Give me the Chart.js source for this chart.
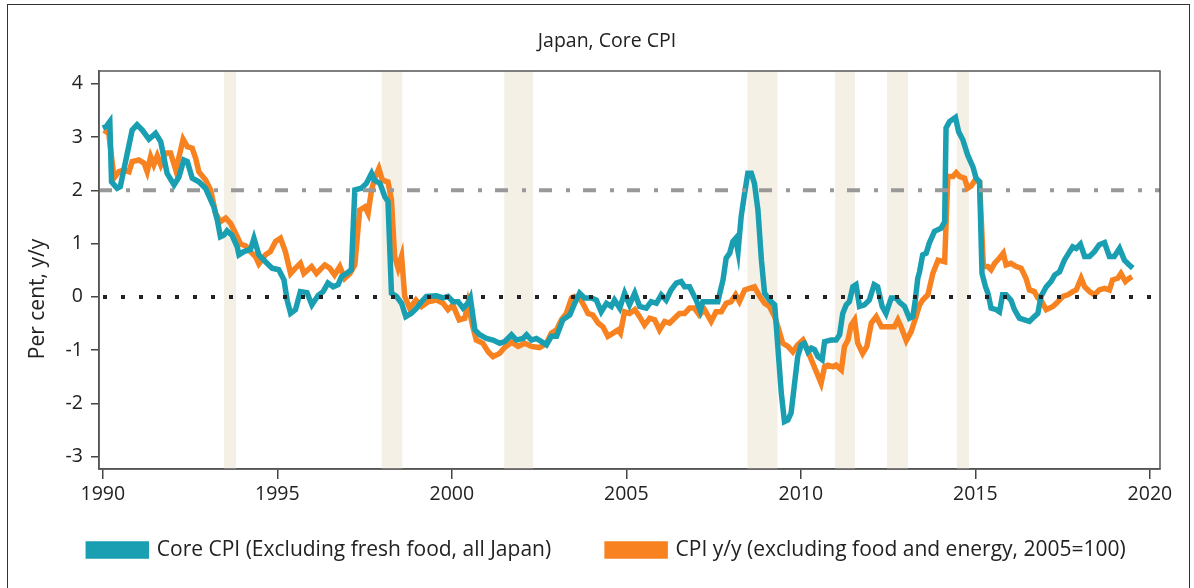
<!DOCTYPE html>
<html>
<head>
<meta charset="utf-8">
<script src="https://cdn.jsdelivr.net/npm/chart.js@4.4.1/dist/chart.umd.min.js"></script>
<style>
  html, body { margin: 0; padding: 0; background: #fff; }
  #wrap { position: relative; width: 1194px; height: 588px; overflow: hidden; }
  #frame { position: absolute; left: 7px; top: 4px; width: 1181px; height: 700px; border: 1px solid #333; }
  canvas { position: absolute; left: 0; top: 0; }
</style>
</head>
<body>
<div id="wrap">
  <div id="frame"></div>
  <canvas id="chart" width="1194" height="588"></canvas>
</div>
<script>
// values: [decimal year, per cent y/y]
const coreCpi = [
  [1990.00, 3.17], [1990.10, 3.20], [1990.20, 3.29], [1990.25, 2.16], [1990.41, 2.04], [1990.50, 2.07],
  [1990.84, 3.13], [1990.98, 3.23], [1991.13, 3.13], [1991.32, 2.96], [1991.51, 3.07], [1991.66, 2.91],
  [1991.84, 2.32], [1992.04, 2.10], [1992.18, 2.25], [1992.32, 2.57], [1992.42, 2.54], [1992.56, 2.23],
  [1992.75, 2.16], [1992.94, 2.04], [1993.09, 1.82], [1993.18, 1.69], [1993.28, 1.44], [1993.37, 1.13],
  [1993.47, 1.16], [1993.56, 1.24], [1993.70, 1.16], [1993.85, 0.94], [1993.90, 0.79], [1994.04, 0.85],
  [1994.23, 0.89], [1994.33, 1.10], [1994.47, 0.79], [1994.66, 0.66], [1994.85, 0.54], [1995.04, 0.51],
  [1995.19, 0.32], [1995.28, -0.06], [1995.38, -0.31], [1995.52, -0.24], [1995.66, 0.10], [1995.85, 0.08],
  [1995.99, -0.15], [1996.17, 0.03], [1996.31, 0.10], [1996.45, 0.26], [1996.60, 0.19], [1996.74, 0.23],
  [1996.84, 0.38], [1996.98, 0.44], [1997.12, 0.51], [1997.22, 2.01], [1997.41, 2.04], [1997.55, 2.13],
  [1997.70, 2.32], [1997.79, 2.19], [1997.94, 2.13], [1998.08, 1.88], [1998.17, 1.79], [1998.27, 0.07],
  [1998.41, 0.01], [1998.56, -0.12], [1998.68, -0.37], [1998.84, -0.31], [1998.99, -0.21], [1999.13, -0.09],
  [1999.27, 0.01], [1999.56, 0.02], [1999.75, -0.02], [1999.89, 0.01], [2000.03, -0.09], [2000.18, -0.09],
  [2000.32, -0.21], [2000.46, -0.12], [2000.53, -0.02], [2000.66, -0.62], [2000.80, -0.71], [2000.99, -0.78],
  [2001.18, -0.81], [2001.37, -0.87], [2001.51, -0.84], [2001.71, -0.71], [2001.85, -0.81], [2002.04, -0.78],
  [2002.14, -0.71], [2002.28, -0.81], [2002.42, -0.78], [2002.57, -0.84], [2002.71, -0.90], [2002.85, -0.74],
  [2003.00, -0.74], [2003.18, -0.43], [2003.38, -0.34], [2003.52, -0.12], [2003.66, 0.07], [2003.80, -0.02],
  [2004.00, -0.02], [2004.14, -0.06], [2004.28, -0.28], [2004.43, -0.12], [2004.57, -0.18], [2004.66, -0.06],
  [2004.81, -0.21], [2004.95, 0.07], [2005.09, -0.15], [2005.24, 0.07], [2005.38, -0.18], [2005.57, -0.21],
  [2005.71, -0.09], [2005.86, -0.12], [2006.00, 0.04], [2006.14, -0.06], [2006.28, 0.13], [2006.43, 0.26],
  [2006.57, 0.29], [2006.67, 0.19], [2006.81, 0.19], [2007.00, -0.06], [2007.12, -0.26], [2007.19, -0.09],
  [2007.48, -0.09], [2007.62, -0.09], [2007.77, 0.32], [2007.86, 0.73], [2007.96, 0.82], [2008.05, 1.04],
  [2008.13, 1.10], [2008.20, 0.85], [2008.29, 1.51], [2008.39, 1.95], [2008.48, 2.32], [2008.58, 2.32],
  [2008.67, 2.13], [2008.77, 1.63], [2008.87, 0.69], [2008.96, 0.07], [2009.10, -0.06], [2009.25, -0.15],
  [2009.34, -0.93], [2009.44, -1.81], [2009.53, -2.34], [2009.63, -2.31], [2009.72, -2.18], [2009.82, -1.62],
  [2009.91, -1.12], [2010.01, -0.90], [2010.10, -0.87], [2010.20, -1.03], [2010.30, -0.96], [2010.39, -0.99],
  [2010.49, -1.12], [2010.61, -1.18], [2010.68, -0.84], [2010.87, -0.81], [2011.01, -0.81], [2011.11, -0.71],
  [2011.20, -0.31], [2011.30, -0.15], [2011.39, -0.09], [2011.49, 0.19], [2011.58, 0.23], [2011.68, -0.18],
  [2011.82, -0.15], [2011.96, -0.06], [2012.10, 0.23], [2012.20, 0.19], [2012.33, -0.18], [2012.44, -0.31],
  [2012.59, -0.02], [2012.73, -0.02], [2012.83, -0.10], [2012.97, -0.18], [2013.11, -0.40], [2013.21, -0.37],
  [2013.28, -0.05], [2013.35, 0.35], [2013.40, 0.47], [2013.49, 0.79], [2013.59, 0.82], [2013.68, 1.01],
  [2013.83, 1.23], [2014.02, 1.29], [2014.12, 1.41], [2014.16, 3.17], [2014.26, 3.29], [2014.43, 3.37],
  [2014.52, 3.10], [2014.64, 2.95], [2014.78, 2.66], [2014.93, 2.44], [2015.02, 2.23], [2015.12, 2.16],
  [2015.19, 0.44], [2015.29, 0.19], [2015.36, 0.07], [2015.45, -0.21], [2015.60, -0.24], [2015.69, -0.28],
  [2015.78, 0.04], [2015.88, 0.04], [2016.02, -0.06], [2016.12, -0.24], [2016.26, -0.40], [2016.41, -0.43],
  [2016.55, -0.46], [2016.69, -0.37], [2016.79, -0.31], [2016.88, 0.01], [2017.03, 0.19], [2017.17, 0.29],
  [2017.27, 0.41], [2017.41, 0.47], [2017.55, 0.69], [2017.70, 0.85], [2017.79, 0.94], [2017.89, 0.91],
  [2018.01, 0.99], [2018.13, 0.76], [2018.27, 0.76], [2018.41, 0.85], [2018.55, 0.98], [2018.70, 1.02],
  [2018.84, 0.76], [2018.98, 0.76], [2019.13, 0.91], [2019.27, 0.69], [2019.41, 0.60], [2019.51, 0.54]
];

const cpiExFoodEnergy = [
  [1990.03, 3.13], [1990.17, 3.07], [1990.32, 2.23], [1990.46, 2.35], [1990.60, 2.38], [1990.75, 2.35],
  [1990.84, 2.54], [1991.03, 2.57], [1991.18, 2.51], [1991.27, 2.35], [1991.37, 2.63], [1991.46, 2.48],
  [1991.56, 2.65], [1991.66, 2.48], [1991.80, 2.70], [1991.94, 2.70], [1992.09, 2.38], [1992.23, 2.76],
  [1992.30, 2.96], [1992.42, 2.82], [1992.56, 2.79], [1992.66, 2.60], [1992.75, 2.35], [1992.94, 2.20],
  [1993.09, 2.01], [1993.23, 1.57], [1993.37, 1.41], [1993.52, 1.48], [1993.66, 1.38], [1993.80, 1.20],
  [1993.95, 0.99], [1994.09, 0.96], [1994.23, 0.85], [1994.37, 0.76], [1994.47, 0.62], [1994.66, 0.79],
  [1994.80, 0.85], [1994.95, 1.04], [1995.09, 1.10], [1995.23, 0.85], [1995.38, 0.44], [1995.52, 0.54],
  [1995.66, 0.63], [1995.76, 0.44], [1995.98, 0.57], [1996.12, 0.44], [1996.36, 0.60], [1996.50, 0.54],
  [1996.64, 0.41], [1996.79, 0.57], [1996.93, 0.35], [1997.08, 0.44], [1997.22, 0.60], [1997.36, 1.63],
  [1997.51, 1.69], [1997.60, 1.57], [1997.70, 2.01], [1997.79, 2.23], [1997.91, 2.41], [1998.01, 2.19],
  [1998.17, 2.16], [1998.27, 1.82], [1998.36, 0.76], [1998.46, 0.54], [1998.56, 0.76], [1998.65, 0.01],
  [1998.79, -0.21], [1998.97, -0.06], [1999.13, -0.18], [1999.32, -0.09], [1999.56, -0.06], [1999.75, -0.12],
  [1999.89, -0.24], [2000.03, -0.15], [2000.21, -0.43], [2000.37, -0.40], [2000.46, -0.12], [2000.60, -0.56],
  [2000.70, -0.81], [2000.89, -0.87], [2001.04, -1.03], [2001.18, -1.12], [2001.37, -1.06], [2001.51, -0.95],
  [2001.71, -0.85], [2001.90, -0.93], [2002.09, -0.87], [2002.28, -0.93], [2002.51, -0.95], [2002.71, -0.87],
  [2002.85, -0.68], [2003.00, -0.62], [2003.14, -0.43], [2003.28, -0.31], [2003.43, -0.02], [2003.52, 0.01],
  [2003.66, -0.02], [2003.80, -0.18], [2003.90, -0.31], [2004.04, -0.34], [2004.19, -0.49], [2004.33, -0.56],
  [2004.47, -0.74], [2004.62, -0.68], [2004.76, -0.62], [2004.83, -0.68], [2004.95, -0.28], [2005.09, -0.31],
  [2005.24, -0.24], [2005.38, -0.37], [2005.52, -0.53], [2005.67, -0.40], [2005.81, -0.43], [2005.95, -0.62],
  [2006.10, -0.46], [2006.24, -0.49], [2006.38, -0.40], [2006.52, -0.31], [2006.67, -0.31], [2006.81, -0.21],
  [2006.95, -0.21], [2007.09, -0.34], [2007.24, -0.24], [2007.43, -0.46], [2007.57, -0.28], [2007.72, -0.28],
  [2007.86, -0.12], [2008.00, -0.09], [2008.13, 0.04], [2008.24, -0.09], [2008.39, 0.13], [2008.53, 0.16],
  [2008.67, 0.19], [2008.82, 0.01], [2008.96, -0.12], [2009.10, -0.18], [2009.25, -0.37], [2009.37, -0.62],
  [2009.48, -0.87], [2009.63, -0.93], [2009.77, -1.03], [2009.91, -0.90], [2010.06, -0.81], [2010.15, -0.93],
  [2010.30, -1.18], [2010.44, -1.40], [2010.58, -1.62], [2010.68, -1.31], [2010.77, -1.28], [2010.92, -1.31],
  [2011.01, -1.28], [2011.16, -1.37], [2011.25, -0.93], [2011.35, -0.81], [2011.44, -0.53], [2011.54, -0.43],
  [2011.63, -0.87], [2011.77, -1.06], [2011.89, -0.93], [2012.02, -0.49], [2012.16, -0.37], [2012.31, -0.56],
  [2012.49, -0.56], [2012.68, -0.56], [2012.78, -0.43], [2012.87, -0.56], [2013.02, -0.82], [2013.16, -0.65],
  [2013.30, -0.37], [2013.40, -0.15], [2013.49, -0.06], [2013.64, 0.04], [2013.78, 0.44], [2013.93, 0.69],
  [2014.12, 0.66], [2014.21, 2.26], [2014.36, 2.26], [2014.45, 2.33], [2014.55, 2.26], [2014.69, 2.23],
  [2014.78, 2.04], [2014.88, 2.08], [2015.00, 2.20], [2015.12, 2.16], [2015.23, 0.57], [2015.36, 0.57],
  [2015.45, 0.51], [2015.55, 0.63], [2015.69, 0.73], [2015.80, 0.82], [2015.88, 0.60], [2016.02, 0.63],
  [2016.17, 0.57], [2016.31, 0.54], [2016.45, 0.35], [2016.55, 0.13], [2016.69, 0.10], [2016.79, -0.02],
  [2016.88, -0.06], [2017.03, -0.24], [2017.22, -0.18], [2017.32, -0.12], [2017.51, 0.01], [2017.65, 0.04],
  [2017.79, 0.10], [2017.89, 0.13], [2018.03, 0.35], [2018.13, 0.19], [2018.27, 0.10], [2018.41, 0.04],
  [2018.55, 0.13], [2018.70, 0.16], [2018.84, 0.13], [2018.93, 0.32], [2019.08, 0.35], [2019.17, 0.44],
  [2019.30, 0.29], [2019.41, 0.35], [2019.49, 0.38]
];

// shaded periods [start, end]
const recessions = [
  [1993.47, 1993.82], [1997.99, 1998.58], [2001.50, 2002.33], [2008.47, 2009.33],
  [2010.98, 2011.55], [2012.47, 2013.07], [2014.47, 2014.82]
];

const inflationTarget = 2;
const xTicks = [1990, 1995, 2000, 2005, 2010, 2015, 2020];
const yTicks = [-3, -2, -1, 0, 1, 2, 3, 4];
const yTitle = 'Per cent, y/y';

const FONT = "'Open Sans', sans-serif";
const TEAL = '#199fb1';
const ORANGE = '#f7821f';

const toXY = arr => arr.map(p => ({x: p[0], y: p[1]}));

// bands under the lines; reference lines, frame and y title on top
const decorPlugin = {
  id: 'decor',
  beforeDatasetsDraw(chart) {
    const {ctx, chartArea: a, scales: {x}} = chart;
    ctx.save();
    ctx.fillStyle = '#f4f0e5';
    recessions.forEach(r => {
      const x0 = x.getPixelForValue(r[0]);
      const x1 = x.getPixelForValue(r[1]);
      ctx.fillRect(x0, a.top, x1 - x0, a.bottom - a.top);
    });
    ctx.restore();
  },
  afterDatasetsDraw(chart) {
    const {ctx, chartArea: a, scales: {y}} = chart;
    ctx.save();
    // 2% target, dash-dot
    let py = y.getPixelForValue(inflationTarget);
    ctx.strokeStyle = '#999';
    ctx.lineWidth = 4;
    ctx.setLineDash([13, 14, 4, 13]);
    ctx.beginPath(); ctx.moveTo(a.left, py); ctx.lineTo(a.right, py); ctx.stroke();
    // zero line, dotted
    py = y.getPixelForValue(0);
    ctx.strokeStyle = '#222';
    ctx.setLineDash([4, 14]);
    ctx.lineDashOffset = -2;
    ctx.beginPath(); ctx.moveTo(a.left + 2, py); ctx.lineTo(a.right, py); ctx.stroke();
    ctx.setLineDash([]);
    ctx.strokeStyle = '#555';
    ctx.lineWidth = 1.5;
    ctx.strokeRect(a.left, a.top, a.right - a.left, a.bottom - a.top);
    // y axis title, sits a bit below the middle in the original
    ctx.translate(38, (a.top + a.bottom) / 2 + 29);
    ctx.rotate(-Math.PI / 2);
    ctx.fillStyle = '#222';
    ctx.font = "21px 'Open Sans', sans-serif";
    ctx.textAlign = 'center';
    ctx.textBaseline = 'middle';
    ctx.fillText(yTitle, 0, 0);
    ctx.restore();
  }
};

new Chart(document.getElementById('chart'), {
  type: 'line',
  data: {
    datasets: [
      {
        label: 'Core CPI (Excluding fresh food, all Japan)',
        data: toXY(coreCpi),
        borderColor: TEAL,
        backgroundColor: TEAL,
        borderWidth: 5.5,
        pointRadius: 0,
        tension: 0
      },
      {
        label: 'CPI y/y (excluding food and energy, 2005=100)',
        data: toXY(cpiExFoodEnergy),
        borderColor: ORANGE,
        backgroundColor: ORANGE,
        borderWidth: 5.5,
        pointRadius: 0,
        tension: 0
      }
    ]
  },
  options: {
    responsive: false,
    animation: false,
    layout: { padding: { left: 20, right: 0, top: 10, bottom: 17.5 } },
    plugins: {
      title: {
        display: true,
        text: 'Japan, Core CPI',
        color: '#222',
        font: { family: FONT, size: 19.5, weight: 'normal' },
        padding: { top: 20, bottom: 17.6 }
      },
      legend: {
        position: 'bottom',
        labels: {
          boxWidth: 58,
          boxHeight: 12,
          padding: 56,
          color: '#222',
          font: { family: FONT, size: 21 }
        }
      },
      tooltip: { enabled: false }
    },
    scales: {
      x: {
        type: 'linear',
        min: 1989.89,
        max: 2020.29,
        afterBuildTicks: s => { s.ticks = xTicks.map(v => ({value: v})); },
        // thin axis box so the wide legend spacing fits; labels drawn unclipped below it
        afterFit: s => { s.height = 14.5; s._computeLabelArea = () => undefined; },
        grid: { drawOnChartArea: false, color: '#444', tickLength: 10, lineWidth: 1.5 },
        border: { color: '#555', width: 1.5 },
        ticks: { color: '#222', padding: 4, font: { family: FONT, size: 19.5 }, callback: v => String(v) }
      },
      y: {
        min: -3.23,
        max: 4.24,
        afterBuildTicks: s => { s.ticks = yTicks.map(v => ({value: v})); },
        afterFit: s => { s.width = 79; },
        grid: { drawOnChartArea: false, color: '#444', tickLength: 8, lineWidth: 1.5 },
        border: { color: '#555', width: 1.5 },
        ticks: { color: '#222', padding: 8, font: { family: FONT, size: 19.5 } }
      },
      // empty right-hand axis, only keeps the plot clear of the right edge
      yRight: {
        position: 'right',
        min: -3.23,
        max: 4.24,
        afterFit: s => { s.width = 34; },
        grid: { display: false },
        border: { display: false },
        ticks: { display: false }
      }
    }
  },
  plugins: [decorPlugin]
});
</script>
</body>
</html>
